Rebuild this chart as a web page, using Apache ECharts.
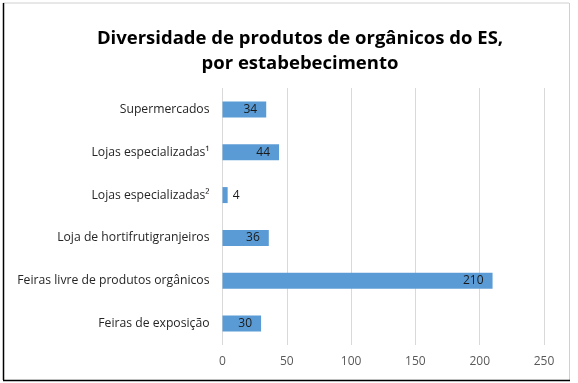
<!DOCTYPE html>
<html><head><meta charset="utf-8">
<script src="https://cdn.jsdelivr.net/npm/echarts@6/dist/echarts.min.js"></script>
<style>html,body{margin:0;padding:0;background:#fff}#c{width:578px;height:383px}</style>
</head><body><div id="c"></div>
<script>
const categories = ["Supermercados","Lojas especializadas\u00b9","Lojas especializadas\u00b2","Loja de hortifrutigranjeiros","Feiras livre de produtos org\u00e2nicos","Feiras de exposi\u00e7\u00e3o"];
const values = [34, 44, 4, 36, 210, 30];
const xTicks = [0, 50, 100, 150, 200, 250];

const font = "'Open Sans', 'Noto Sans', sans-serif";
const chart = echarts.init(document.getElementById('c'), null, {renderer:'canvas'});
chart.setOption({
  animation:false,
  backgroundColor:'#fff',
  title:{
    text:'Diversidade de produtos de org\u00e2nicos do ES,\npor estabebecimento',
    left:295, top:21, textAlign:'center',
    textStyle:{fontFamily:font, fontSize:18.5, fontWeight:'bold', color:'#000', lineHeight:25}
  },
  graphic:[
    {type:'line', shape:{x1:3,y1:3,x2:569,y2:3}, style:{stroke:'#d0d0d0', lineWidth:1}},
    {type:'line', shape:{x1:569.5,y1:3,x2:569.5,y2:380}, style:{stroke:'#d0d0d0', lineWidth:1}},
    {type:'line', shape:{x1:3.5,y1:3,x2:3.5,y2:380}, style:{stroke:'#000', lineWidth:1.5}},
    {type:'line', shape:{x1:3,y1:380.5,x2:570,y2:380.5}, style:{stroke:'#000', lineWidth:1.5}}
  ],
  grid:{left:222.5, right:34, top:88, bottom:38},
  xAxis:{
    type:'value', min:xTicks[0], max:xTicks[xTicks.length-1], interval:50,
    axisLine:{show:false}, axisTick:{show:false},
    splitLine:{lineStyle:{color:'#d9d9d9', width:1}},
    axisLabel:{fontFamily:font, fontSize:12, color:'#595959', margin:11}
  },
  yAxis:{
    type:'category', data:categories, inverse:true,
    axisLine:{show:false}, axisTick:{show:false},
    axisLabel:{fontFamily:font, fontSize:12.2, color:'#262626', margin:13}
  },
  series:[{
    type:'bar', data:values.map(v=>({value:v, label: v<10?{position:'right', distance:5}:{}})),
    barWidth:16,
    itemStyle:{color:'#5b9bd5'},
    label:{show:true, position:'insideRight', distance:9, fontFamily:font, fontSize:12, color:'#1a1a1a'}
  }]
});
</script></body></html>
